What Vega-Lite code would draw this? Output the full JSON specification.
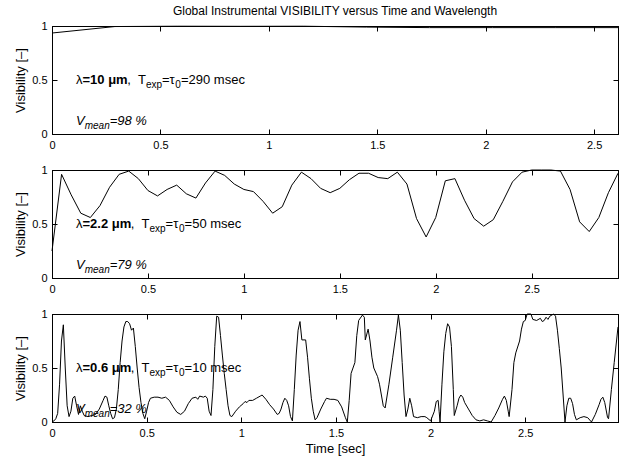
{
"$schema": "https://vega.github.io/schema/vega-lite/v6.json",
"padding": {"left": 14, "top": 4, "right": 0, "bottom": 0},
"autosize": {"type": "pad"},
"bounds": "flush",
"spacing": 36,
"config": {
 "font": "Liberation Sans",
 "view": {"stroke": "black", "strokeWidth": 1},
 "axis": {"grid": false, "domainColor": "black", "domainWidth": 1, "tickColor": "black", "tickWidth": 1, "tickSize": -5, "labelColor": "black", "labelFont": "Liberation Sans", "labelFontSize": 11, "labelPadding": 10, "labelFlush": false, "titleColor": "black", "titleFont": "Liberation Sans", "titleFontSize": 13, "titleFontWeight": "normal", "titlePadding": 4},
 "title": {"font": "Liberation Sans", "fontSize": 12, "fontWeight": "normal", "color": "black", "offset": 2, "frame": "group", "anchor": "middle"},
 "text": {"font": "Liberation Sans", "color": "black", "align": "left", "baseline": "middle"}
},
"datasets": {
 "p1": [{"t":0,"v":0.935},{"t":0.29,"v":0.995},{"t":0.58,"v":0.998},{"t":0.87,"v":0.997},{"t":1.16,"v":0.998},{"t":1.45,"v":0.99},{"t":1.74,"v":0.985},{"t":2.03,"v":0.985},{"t":2.32,"v":0.985},{"t":2.61,"v":0.985}],
 "p2": [{"t":0,"v":0.25},{"t":0.05,"v":0.96},{"t":0.1,"v":0.77},{"t":0.15,"v":0.6},{"t":0.2,"v":0.56},{"t":0.25,"v":0.67},{"t":0.3,"v":0.84},{"t":0.35,"v":0.96},{"t":0.4,"v":0.99},{"t":0.45,"v":0.92},{"t":0.5,"v":0.81},{"t":0.55,"v":0.76},{"t":0.6,"v":0.82},{"t":0.65,"v":0.86},{"t":0.7,"v":0.78},{"t":0.75,"v":0.74},{"t":0.8,"v":0.88},{"t":0.85,"v":0.99},{"t":0.9,"v":0.95},{"t":0.95,"v":0.87},{"t":1.0,"v":0.82},{"t":1.05,"v":0.8},{"t":1.1,"v":0.71},{"t":1.15,"v":0.6},{"t":1.2,"v":0.66},{"t":1.25,"v":0.86},{"t":1.3,"v":0.98},{"t":1.35,"v":0.92},{"t":1.4,"v":0.83},{"t":1.45,"v":0.79},{"t":1.5,"v":0.83},{"t":1.55,"v":0.91},{"t":1.6,"v":0.97},{"t":1.65,"v":0.97},{"t":1.7,"v":0.93},{"t":1.75,"v":0.92},{"t":1.8,"v":0.98},{"t":1.85,"v":0.87},{"t":1.9,"v":0.55},{"t":1.95,"v":0.38},{"t":2.0,"v":0.56},{"t":2.05,"v":0.9},{"t":2.1,"v":0.92},{"t":2.15,"v":0.72},{"t":2.2,"v":0.55},{"t":2.25,"v":0.48},{"t":2.3,"v":0.54},{"t":2.35,"v":0.71},{"t":2.4,"v":0.89},{"t":2.45,"v":0.98},{"t":2.5,"v":1.0},{"t":2.55,"v":1.0},{"t":2.6,"v":1.0},{"t":2.65,"v":0.99},{"t":2.7,"v":0.82},{"t":2.75,"v":0.52},{"t":2.8,"v":0.43},{"t":2.85,"v":0.56},{"t":2.9,"v":0.79},{"t":2.95,"v":0.97}],
 "p3": [{"t":0,"v":0.0},{"t":0.01,"v":0.01},{"t":0.02,"v":0.03},{"t":0.03,"v":0.08},{"t":0.04,"v":0.35},{"t":0.05,"v":0.75},{"t":0.06,"v":0.9},{"t":0.07,"v":0.5},{"t":0.08,"v":0.15},{"t":0.09,"v":0.05},{"t":0.1,"v":0.1},{"t":0.11,"v":0.22},{"t":0.12,"v":0.24},{"t":0.13,"v":0.15},{"t":0.14,"v":0.07},{"t":0.15,"v":0.15},{"t":0.16,"v":0.1},{"t":0.17,"v":0.06},{"t":0.19,"v":0.05},{"t":0.21,"v":0.06},{"t":0.23,"v":0.07},{"t":0.25,"v":0.12},{"t":0.27,"v":0.2},{"t":0.28,"v":0.24},{"t":0.29,"v":0.23},{"t":0.3,"v":0.15},{"t":0.31,"v":0.08},{"t":0.32,"v":0.03},{"t":0.33,"v":0.04},{"t":0.34,"v":0.12},{"t":0.35,"v":0.3},{"t":0.36,"v":0.55},{"t":0.37,"v":0.75},{"t":0.38,"v":0.88},{"t":0.39,"v":0.93},{"t":0.4,"v":0.93},{"t":0.41,"v":0.91},{"t":0.42,"v":0.85},{"t":0.43,"v":0.87},{"t":0.44,"v":0.7},{"t":0.45,"v":0.5},{"t":0.46,"v":0.32},{"t":0.47,"v":0.18},{"t":0.48,"v":0.08},{"t":0.49,"v":0.03},{"t":0.5,"v":0.1},{"t":0.51,"v":0.18},{"t":0.52,"v":0.22},{"t":0.54,"v":0.23},{"t":0.56,"v":0.23},{"t":0.58,"v":0.22},{"t":0.6,"v":0.23},{"t":0.62,"v":0.2},{"t":0.64,"v":0.14},{"t":0.66,"v":0.09},{"t":0.68,"v":0.07},{"t":0.7,"v":0.1},{"t":0.72,"v":0.17},{"t":0.74,"v":0.22},{"t":0.76,"v":0.23},{"t":0.77,"v":0.21},{"t":0.78,"v":0.24},{"t":0.8,"v":0.23},{"t":0.81,"v":0.24},{"t":0.82,"v":0.22},{"t":0.83,"v":0.1},{"t":0.84,"v":0.06},{"t":0.85,"v":0.3},{"t":0.86,"v":0.7},{"t":0.87,"v":0.98},{"t":0.88,"v":0.97},{"t":0.89,"v":0.8},{"t":0.9,"v":0.62},{"t":0.91,"v":0.45},{"t":0.92,"v":0.3},{"t":0.93,"v":0.15},{"t":0.94,"v":0.06},{"t":0.95,"v":0.05},{"t":0.97,"v":0.1},{"t":0.99,"v":0.14},{"t":1.01,"v":0.17},{"t":1.02,"v":0.19},{"t":1.03,"v":0.18},{"t":1.04,"v":0.2},{"t":1.06,"v":0.2},{"t":1.08,"v":0.22},{"t":1.1,"v":0.24},{"t":1.11,"v":0.25},{"t":1.13,"v":0.21},{"t":1.15,"v":0.16},{"t":1.17,"v":0.12},{"t":1.19,"v":0.07},{"t":1.2,"v":0.08},{"t":1.21,"v":0.12},{"t":1.22,"v":0.18},{"t":1.23,"v":0.22},{"t":1.24,"v":0.2},{"t":1.25,"v":0.15},{"t":1.26,"v":0.05},{"t":1.27,"v":0.01},{"t":1.28,"v":0.3},{"t":1.29,"v":0.62},{"t":1.3,"v":0.85},{"t":1.31,"v":0.93},{"t":1.32,"v":0.76},{"t":1.34,"v":0.76},{"t":1.35,"v":0.6},{"t":1.36,"v":0.4},{"t":1.37,"v":0.22},{"t":1.38,"v":0.1},{"t":1.39,"v":0.02},{"t":1.4,"v":0.04},{"t":1.42,"v":0.12},{"t":1.44,"v":0.19},{"t":1.45,"v":0.22},{"t":1.47,"v":0.21},{"t":1.49,"v":0.21},{"t":1.51,"v":0.2},{"t":1.53,"v":0.14},{"t":1.55,"v":0.04},{"t":1.56,"v":0.0},{"t":1.57,"v":0.2},{"t":1.58,"v":0.45},{"t":1.59,"v":0.5},{"t":1.6,"v":0.55},{"t":1.61,"v":0.8},{"t":1.62,"v":0.94},{"t":1.64,"v":0.99},{"t":1.65,"v":0.97},{"t":1.655,"v":0.76},{"t":1.67,"v":0.86},{"t":1.68,"v":0.75},{"t":1.69,"v":0.6},{"t":1.7,"v":0.5},{"t":1.72,"v":0.42},{"t":1.73,"v":0.35},{"t":1.74,"v":0.25},{"t":1.75,"v":0.15},{"t":1.76,"v":0.13},{"t":1.78,"v":0.35},{"t":1.8,"v":0.6},{"t":1.82,"v":0.85},{"t":1.83,"v":0.99},{"t":1.84,"v":0.85},{"t":1.85,"v":0.55},{"t":1.86,"v":0.25},{"t":1.87,"v":0.05},{"t":1.88,"v":0.12},{"t":1.89,"v":0.22},{"t":1.9,"v":0.15},{"t":1.91,"v":0.05},{"t":1.93,"v":0.04},{"t":1.95,"v":0.05},{"t":1.97,"v":0.05},{"t":1.98,"v":0.04},{"t":2.0,"v":0.01},{"t":2.02,"v":0.1},{"t":2.03,"v":0.19},{"t":2.04,"v":0.2},{"t":2.045,"v":0.1},{"t":2.05,"v":0.0},{"t":2.06,"v":0.35},{"t":2.07,"v":0.65},{"t":2.08,"v":0.82},{"t":2.09,"v":0.91},{"t":2.1,"v":0.88},{"t":2.11,"v":0.7},{"t":2.12,"v":0.3},{"t":2.125,"v":0.06},{"t":2.14,"v":0.15},{"t":2.15,"v":0.22},{"t":2.16,"v":0.25},{"t":2.17,"v":0.23},{"t":2.18,"v":0.18},{"t":2.2,"v":0.12},{"t":2.22,"v":0.06},{"t":2.24,"v":0.02},{"t":2.26,"v":0.01},{"t":2.28,"v":0.02},{"t":2.3,"v":0.01},{"t":2.32,"v":0.0},{"t":2.34,"v":0.06},{"t":2.36,"v":0.13},{"t":2.38,"v":0.21},{"t":2.39,"v":0.24},{"t":2.4,"v":0.2},{"t":2.41,"v":0.1},{"t":2.415,"v":0.05},{"t":2.43,"v":0.3},{"t":2.44,"v":0.55},{"t":2.45,"v":0.64},{"t":2.47,"v":0.75},{"t":2.48,"v":0.86},{"t":2.49,"v":0.93},{"t":2.5,"v":0.94},{"t":2.51,"v":1.0},{"t":2.53,"v":1.0},{"t":2.54,"v":0.95},{"t":2.56,"v":0.94},{"t":2.58,"v":0.96},{"t":2.59,"v":0.93},{"t":2.6,"v":0.94},{"t":2.61,"v":0.97},{"t":2.62,"v":0.95},{"t":2.63,"v":0.98},{"t":2.65,"v":1.0},{"t":2.66,"v":0.98},{"t":2.67,"v":0.85},{"t":2.68,"v":0.68},{"t":2.69,"v":0.5},{"t":2.7,"v":0.25},{"t":2.71,"v":0.0},{"t":2.72,"v":0.15},{"t":2.73,"v":0.22},{"t":2.74,"v":0.22},{"t":2.75,"v":0.17},{"t":2.76,"v":0.07},{"t":2.77,"v":0.02},{"t":2.79,"v":0.04},{"t":2.81,"v":0.05},{"t":2.83,"v":0.04},{"t":2.85,"v":0.0},{"t":2.87,"v":0.07},{"t":2.89,"v":0.16},{"t":2.9,"v":0.21},{"t":2.91,"v":0.23},{"t":2.92,"v":0.18},{"t":2.935,"v":0.04},{"t":2.94,"v":0.03},{"t":2.955,"v":0.3},{"t":2.97,"v":0.55},{"t":2.99,"v":0.88}],
 "ann": [
  {"panel":1,"kind":"n","t":0.1107,"v":0.5,"text":"λ"},
  {"panel":1,"kind":"b","t":0.1406,"v":0.5,"text":"=10 μm"},
  {"panel":1,"kind":"n","t":0.3467,"v":0.5,"text":","},
  {"panel":1,"kind":"n","t":0.3965,"v":0.5,"text":"T"},
  {"panel":1,"kind":"s","t":0.4329,"v":0.5,"text":"exp"},
  {"panel":1,"kind":"n","t":0.5071,"v":0.5,"text":"=τ"},
  {"panel":1,"kind":"s","t":0.5689,"v":0.5,"text":"0"},
  {"panel":1,"kind":"n","t":0.5947,"v":0.5,"text":"=290 msec"},
  {"panel":1,"kind":"i","t":0.1107,"v":0.12,"text":"V"},
  {"panel":1,"kind":"is","t":0.1508,"v":0.12,"text":"mean"},
  {"panel":1,"kind":"i","t":0.2660,"v":0.12,"text":"=98 %"},
  {"panel":2,"kind":"n","t":0.1251,"v":0.5,"text":"λ"},
  {"panel":2,"kind":"b","t":0.1589,"v":0.5,"text":"=2.2 μm"},
  {"panel":2,"kind":"n","t":0.4106,"v":0.5,"text":","},
  {"panel":2,"kind":"n","t":0.4669,"v":0.5,"text":"T"},
  {"panel":2,"kind":"s","t":0.5081,"v":0.5,"text":"exp"},
  {"panel":2,"kind":"n","t":0.5920,"v":0.5,"text":"=τ"},
  {"panel":2,"kind":"s","t":0.6618,"v":0.5,"text":"0"},
  {"panel":2,"kind":"n","t":0.6910,"v":0.5,"text":"=50 msec"},
  {"panel":2,"kind":"i","t":0.1251,"v":0.12,"text":"V"},
  {"panel":2,"kind":"is","t":0.1704,"v":0.12,"text":"mean"},
  {"panel":2,"kind":"i","t":0.3007,"v":0.12,"text":"=79 %"},
  {"panel":3,"kind":"n","t":0.1268,"v":0.5,"text":"λ"},
  {"panel":3,"kind":"b","t":0.1611,"v":0.5,"text":"=0.6 μm"},
  {"panel":3,"kind":"n","t":0.4163,"v":0.5,"text":","},
  {"panel":3,"kind":"n","t":0.4733,"v":0.5,"text":"T"},
  {"panel":3,"kind":"s","t":0.5151,"v":0.5,"text":"exp"},
  {"panel":3,"kind":"n","t":0.6001,"v":0.5,"text":"=τ"},
  {"panel":3,"kind":"s","t":0.6709,"v":0.5,"text":"0"},
  {"panel":3,"kind":"n","t":0.7005,"v":0.5,"text":"=10 msec"},
  {"panel":3,"kind":"i","t":0.1268,"v":0.12,"text":"V"},
  {"panel":3,"kind":"is","t":0.1727,"v":0.12,"text":"mean"},
  {"panel":3,"kind":"i","t":0.3048,"v":0.12,"text":"=32 %"}
 ]
},
"vconcat": [
 {
  "title": {"text": "Global Instrumental VISIBILITY versus Time and Wavelength"},
  "width": 566, "height": 108,
  "resolve": {"axis": {"x": "independent", "y": "independent"}},
  "layer": [
   {"data": {"name": "p1"}, "mark": {"type": "line", "color": "black", "strokeWidth": 1},
    "encoding": {
     "x": {"field": "t", "type": "quantitative", "scale": {"domain": [0, 2.61], "nice": false, "zero": false}, "axis": {"orient": "bottom", "values": [0, 0.5, 1, 1.5, 2, 2.5], "format": "~g", "title": null}},
     "y": {"field": "v", "type": "quantitative", "scale": {"domain": [0, 1], "nice": false}, "axis": {"orient": "left", "values": [0, 0.5, 1], "format": "~g", "title": "Visibility [–]"}}}},
   {"data": {"name": "p1"}, "mark": {"type": "line", "opacity": 0},
    "encoding": {
     "x": {"field": "t", "type": "quantitative", "scale": {"domain": [0, 2.61], "nice": false, "zero": false}, "axis": {"orient": "top", "values": [0, 0.5, 1, 1.5, 2, 2.5], "labels": false, "title": null}},
     "y": {"field": "v", "type": "quantitative", "scale": {"domain": [0, 1], "nice": false}, "axis": {"orient": "right", "values": [0, 0.5, 1], "labels": false, "title": null}}}},
   {"data": {"name": "ann"}, "transform": [{"filter": "datum.panel == 1 && datum.kind == 'n'"}],
    "mark": {"type": "text", "fontSize": 13},
    "encoding": {"x": {"field": "t", "type": "quantitative", "scale": {"domain": [0, 2.61], "nice": false, "zero": false}, "axis": null}, "y": {"field": "v", "type": "quantitative", "scale": {"domain": [0, 1], "nice": false}, "axis": null}, "text": {"field": "text"}}},
   {"data": {"name": "ann"}, "transform": [{"filter": "datum.panel == 1 && datum.kind == 'b'"}],
    "mark": {"type": "text", "fontSize": 13, "fontWeight": "bold"},
    "encoding": {"x": {"field": "t", "type": "quantitative", "scale": {"domain": [0, 2.61], "nice": false, "zero": false}, "axis": null}, "y": {"field": "v", "type": "quantitative", "scale": {"domain": [0, 1], "nice": false}, "axis": null}, "text": {"field": "text"}}},
   {"data": {"name": "ann"}, "transform": [{"filter": "datum.panel == 1 && datum.kind == 's'"}],
    "mark": {"type": "text", "fontSize": 10, "dy": 5},
    "encoding": {"x": {"field": "t", "type": "quantitative", "scale": {"domain": [0, 2.61], "nice": false, "zero": false}, "axis": null}, "y": {"field": "v", "type": "quantitative", "scale": {"domain": [0, 1], "nice": false}, "axis": null}, "text": {"field": "text"}}},
   {"data": {"name": "ann"}, "transform": [{"filter": "datum.panel == 1 && datum.kind == 'i'"}],
    "mark": {"type": "text", "fontSize": 13, "fontStyle": "italic"},
    "encoding": {"x": {"field": "t", "type": "quantitative", "scale": {"domain": [0, 2.61], "nice": false, "zero": false}, "axis": null}, "y": {"field": "v", "type": "quantitative", "scale": {"domain": [0, 1], "nice": false}, "axis": null}, "text": {"field": "text"}}},
   {"data": {"name": "ann"}, "transform": [{"filter": "datum.panel == 1 && datum.kind == 'is'"}],
    "mark": {"type": "text", "fontSize": 10, "dy": 5, "fontStyle": "italic"},
    "encoding": {"x": {"field": "t", "type": "quantitative", "scale": {"domain": [0, 2.61], "nice": false, "zero": false}, "axis": null}, "y": {"field": "v", "type": "quantitative", "scale": {"domain": [0, 1], "nice": false}, "axis": null}, "text": {"field": "text"}}}
  ]
 },
 {
  "width": 566, "height": 108,
  "resolve": {"axis": {"x": "independent", "y": "independent"}},
  "layer": [
   {"data": {"name": "p2"}, "mark": {"type": "line", "color": "black", "strokeWidth": 1},
    "encoding": {
     "x": {"field": "t", "type": "quantitative", "scale": {"domain": [0, 2.95], "nice": false, "zero": false}, "axis": {"orient": "bottom", "values": [0, 0.5, 1, 1.5, 2, 2.5], "format": "~g", "title": null}},
     "y": {"field": "v", "type": "quantitative", "scale": {"domain": [0, 1], "nice": false}, "axis": {"orient": "left", "values": [0, 0.5, 1], "format": "~g", "title": "Visibility [–]"}}}},
   {"data": {"name": "p2"}, "mark": {"type": "line", "opacity": 0},
    "encoding": {
     "x": {"field": "t", "type": "quantitative", "scale": {"domain": [0, 2.95], "nice": false, "zero": false}, "axis": {"orient": "top", "values": [0, 0.5, 1, 1.5, 2, 2.5], "labels": false, "title": null}},
     "y": {"field": "v", "type": "quantitative", "scale": {"domain": [0, 1], "nice": false}, "axis": {"orient": "right", "values": [0, 0.5, 1], "labels": false, "title": null}}}},
   {"data": {"name": "ann"}, "transform": [{"filter": "datum.panel == 2 && datum.kind == 'n'"}],
    "mark": {"type": "text", "fontSize": 13},
    "encoding": {"x": {"field": "t", "type": "quantitative", "scale": {"domain": [0, 2.95], "nice": false, "zero": false}, "axis": null}, "y": {"field": "v", "type": "quantitative", "scale": {"domain": [0, 1], "nice": false}, "axis": null}, "text": {"field": "text"}}},
   {"data": {"name": "ann"}, "transform": [{"filter": "datum.panel == 2 && datum.kind == 'b'"}],
    "mark": {"type": "text", "fontSize": 13, "fontWeight": "bold"},
    "encoding": {"x": {"field": "t", "type": "quantitative", "scale": {"domain": [0, 2.95], "nice": false, "zero": false}, "axis": null}, "y": {"field": "v", "type": "quantitative", "scale": {"domain": [0, 1], "nice": false}, "axis": null}, "text": {"field": "text"}}},
   {"data": {"name": "ann"}, "transform": [{"filter": "datum.panel == 2 && datum.kind == 's'"}],
    "mark": {"type": "text", "fontSize": 10, "dy": 5},
    "encoding": {"x": {"field": "t", "type": "quantitative", "scale": {"domain": [0, 2.95], "nice": false, "zero": false}, "axis": null}, "y": {"field": "v", "type": "quantitative", "scale": {"domain": [0, 1], "nice": false}, "axis": null}, "text": {"field": "text"}}},
   {"data": {"name": "ann"}, "transform": [{"filter": "datum.panel == 2 && datum.kind == 'i'"}],
    "mark": {"type": "text", "fontSize": 13, "fontStyle": "italic"},
    "encoding": {"x": {"field": "t", "type": "quantitative", "scale": {"domain": [0, 2.95], "nice": false, "zero": false}, "axis": null}, "y": {"field": "v", "type": "quantitative", "scale": {"domain": [0, 1], "nice": false}, "axis": null}, "text": {"field": "text"}}},
   {"data": {"name": "ann"}, "transform": [{"filter": "datum.panel == 2 && datum.kind == 'is'"}],
    "mark": {"type": "text", "fontSize": 10, "dy": 5, "fontStyle": "italic"},
    "encoding": {"x": {"field": "t", "type": "quantitative", "scale": {"domain": [0, 2.95], "nice": false, "zero": false}, "axis": null}, "y": {"field": "v", "type": "quantitative", "scale": {"domain": [0, 1], "nice": false}, "axis": null}, "text": {"field": "text"}}}
  ]
 },
 {
  "width": 566, "height": 108,
  "resolve": {"axis": {"x": "independent", "y": "independent"}},
  "layer": [
   {"data": {"name": "p3"}, "mark": {"type": "line", "color": "black", "strokeWidth": 1},
    "encoding": {
     "x": {"field": "t", "type": "quantitative", "scale": {"domain": [0, 2.99], "nice": false, "zero": false}, "axis": {"orient": "bottom", "values": [0, 0.5, 1, 1.5, 2, 2.5], "format": "~g", "title": "Time [sec]"}},
     "y": {"field": "v", "type": "quantitative", "scale": {"domain": [0, 1], "nice": false}, "axis": {"orient": "left", "values": [0, 0.5, 1], "format": "~g", "title": "Visibility [–]"}}}},
   {"data": {"name": "p3"}, "mark": {"type": "line", "opacity": 0},
    "encoding": {
     "x": {"field": "t", "type": "quantitative", "scale": {"domain": [0, 2.99], "nice": false, "zero": false}, "axis": {"orient": "top", "values": [0, 0.5, 1, 1.5, 2, 2.5], "labels": false, "title": null}},
     "y": {"field": "v", "type": "quantitative", "scale": {"domain": [0, 1], "nice": false}, "axis": {"orient": "right", "values": [0, 0.5, 1], "labels": false, "title": null}}}},
   {"data": {"name": "ann"}, "transform": [{"filter": "datum.panel == 3 && datum.kind == 'n'"}],
    "mark": {"type": "text", "fontSize": 13},
    "encoding": {"x": {"field": "t", "type": "quantitative", "scale": {"domain": [0, 2.99], "nice": false, "zero": false}, "axis": null}, "y": {"field": "v", "type": "quantitative", "scale": {"domain": [0, 1], "nice": false}, "axis": null}, "text": {"field": "text"}}},
   {"data": {"name": "ann"}, "transform": [{"filter": "datum.panel == 3 && datum.kind == 'b'"}],
    "mark": {"type": "text", "fontSize": 13, "fontWeight": "bold"},
    "encoding": {"x": {"field": "t", "type": "quantitative", "scale": {"domain": [0, 2.99], "nice": false, "zero": false}, "axis": null}, "y": {"field": "v", "type": "quantitative", "scale": {"domain": [0, 1], "nice": false}, "axis": null}, "text": {"field": "text"}}},
   {"data": {"name": "ann"}, "transform": [{"filter": "datum.panel == 3 && datum.kind == 's'"}],
    "mark": {"type": "text", "fontSize": 10, "dy": 5},
    "encoding": {"x": {"field": "t", "type": "quantitative", "scale": {"domain": [0, 2.99], "nice": false, "zero": false}, "axis": null}, "y": {"field": "v", "type": "quantitative", "scale": {"domain": [0, 1], "nice": false}, "axis": null}, "text": {"field": "text"}}},
   {"data": {"name": "ann"}, "transform": [{"filter": "datum.panel == 3 && datum.kind == 'i'"}],
    "mark": {"type": "text", "fontSize": 13, "fontStyle": "italic"},
    "encoding": {"x": {"field": "t", "type": "quantitative", "scale": {"domain": [0, 2.99], "nice": false, "zero": false}, "axis": null}, "y": {"field": "v", "type": "quantitative", "scale": {"domain": [0, 1], "nice": false}, "axis": null}, "text": {"field": "text"}}},
   {"data": {"name": "ann"}, "transform": [{"filter": "datum.panel == 3 && datum.kind == 'is'"}],
    "mark": {"type": "text", "fontSize": 10, "dy": 5, "fontStyle": "italic"},
    "encoding": {"x": {"field": "t", "type": "quantitative", "scale": {"domain": [0, 2.99], "nice": false, "zero": false}, "axis": null}, "y": {"field": "v", "type": "quantitative", "scale": {"domain": [0, 1], "nice": false}, "axis": null}, "text": {"field": "text"}}}
  ]
 }
]
}
